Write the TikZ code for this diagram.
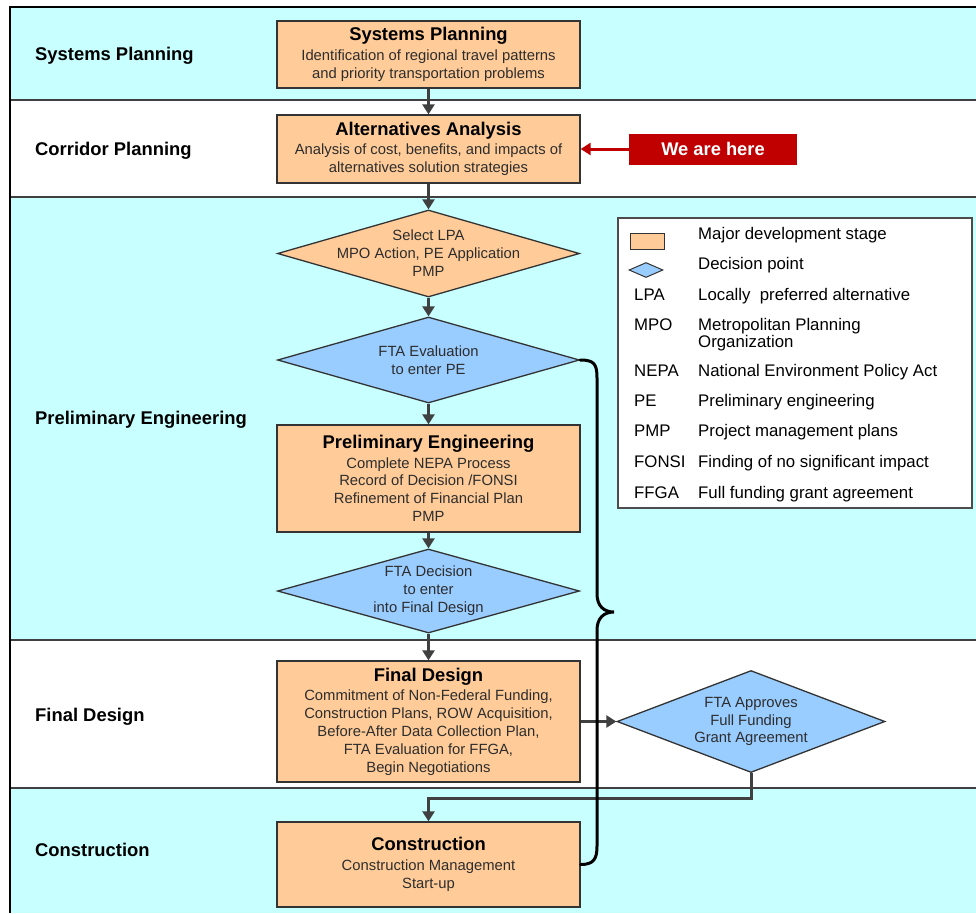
\documentclass[tikz,border=0pt]{standalone}
\usepackage{fontspec}
\setmainfont{Liberation Sans}
\usetikzlibrary{shapes.geometric,arrows.meta}
\definecolor{bandcyan}{RGB}{200,255,255}
\definecolor{stageor}{RGB}{255,204,153}
\definecolor{decblue}{RGB}{153,204,255}
\definecolor{herered}{RGB}{192,0,0}
\definecolor{linegray}{RGB}{64,64,64}
\definecolor{bodygray}{RGB}{45,45,45}
\newcommand\fBody{\fontsize{14.8}{17.9}\selectfont}
\newcommand\fTitle{\fontsize{18.4}{22}\selectfont\bfseries}
\newcommand\fLane{\fontsize{18.4}{22}\selectfont\bfseries}
\newcommand\fLeg{\fontsize{16.8}{15}\selectfont}
\newcommand\fHere{\fontsize{18.3}{22}\selectfont\bfseries}
\tikzset{
  stagebox/.style={draw=black!80, line width=1.3pt, fill=stageor, minimum width=303pt,
    inner sep=0pt, align=center, font=\fBody, text=bodygray},
  decision/.style={diamond, draw=black!80, line width=1.3pt, fill=decblue, inner sep=0pt},
  decisionor/.style={decision, fill=stageor},
  dtext/.style={align=center, font=\fBody, text=bodygray, inner sep=0pt},
  lanelabel/.style={anchor=base west, font=\fLane, inner sep=0pt},
  laneline/.style={draw=linegray, line width=2pt},
  flow/.style={draw=linegray, line width=3pt, -{Triangle[length=10pt,width=12pt]}},
  redflow/.style={draw=herered, line width=3pt, -{Triangle[length=10pt,width=12pt]}},
  herebox/.style={fill=herered, text=white, font=\fHere, minimum width=168pt, minimum height=31pt, inner sep=0pt},
  legendbox/.style={draw=black!70, line width=1.2pt, fill=white, inner sep=0pt},
  legtext/.style={anchor=base west, font=\fLeg, inner sep=0pt},
  brace/.style={draw=black, line width=3pt, line cap=round}
}
\begin{document}
\begin{tikzpicture}[x=1pt,y=-1pt]
\useasboundingbox (0,0) rectangle (976,913);
\fill[white] (0,0) rectangle (976,913);
% bands
\fill[bandcyan] (10,7) rectangle (976,100);
\fill[white] (10,100) rectangle (976,197);
\fill[bandcyan] (10,197) rectangle (976,640);
\fill[white] (10,640) rectangle (976,788);
\fill[bandcyan] (10,788) rectangle (976,913);
\draw[laneline] (10,100) -- (976,100);
\draw[laneline] (10,197) -- (976,197);
\draw[laneline] (10,640) -- (976,640);
\draw[laneline] (10,788) -- (976,788);
\draw[black, line width=2pt] (10,913) -- (10,7) -- (976,7);

% lane labels
\node[lanelabel] (l1) at (35,60.6) {Systems Planning};
\node[lanelabel] (l2) at (35,155.6) {Corridor Planning};
\node[lanelabel] (l3) at (35,424.6) {Preliminary Engineering};
\node[lanelabel] (l4) at (35,721.6) {Final Design};
\node[lanelabel] (l5) at (35,856.6) {Construction};

% stages
\node[stagebox, minimum height=67pt] (sp) at (428.5,54.5)
  {{\fTitle\color{black} Systems Planning}\\[1.5pt]Identification of regional travel patterns\\and priority transportation problems};
\node[stagebox, minimum height=68pt] (aa) at (428.5,149)
  {{\fTitle\color{black} Alternatives Analysis}\\[1.5pt]Analysis of cost, benefits, and impacts of\\alternatives solution strategies};
\node[decisionor, minimum width=302pt, minimum height=87pt] (d1) at (428.5,253.5) {};
\node[dtext] (d1t) at (d1.center) {Select LPA\\MPO Action, PE Application\\PMP};
\node[decision, minimum width=302pt, minimum height=86pt] (d2) at (428.5,360) {};
\node[dtext] (d2t) at (d2.center) {FTA Evaluation\\to enter PE};
\node[stagebox, minimum height=107pt] (pe) at (428.5,478.5)
  {{\fTitle\color{black} Preliminary Engineering}\\[1.5pt]Complete NEPA Process\\Record of Decision /FONSI\\Refinement of Financial Plan\\PMP};
\node[decision, minimum width=302pt, minimum height=84pt] (d3) at (428.5,591) {};
\node[dtext] (d3t) at (d3.center) {FTA Decision\\to enter\\into Final Design};
\node[stagebox, minimum height=121pt] (fd) at (428.5,721.5)
  {{\fTitle\color{black} Final Design}\\[1.5pt]Commitment of Non-Federal Funding,\\Construction Plans, ROW Acquisition,\\Before-After Data Collection Plan,\\FTA Evaluation for FFGA,\\Begin Negotiations};
\node[decision, minimum width=268pt, minimum height=102pt] (d4) at (751,721.5) {};
\node[dtext] (d4t) at (d4.center) {FTA Approves\\Full Funding\\Grant Agreement};
\node[stagebox, minimum height=85pt] (co) at (428.5,864.5)
  {{\fTitle\color{black} Construction}\\[1.5pt]Construction Management\\Start-up};

% flow
\draw[flow] (sp) -- (aa);
\draw[flow] (aa) -- (d1);
\draw[flow] (d1) -- (d2);
\draw[flow] (d2) -- (pe);
\draw[flow] (pe) -- (d3);
\draw[flow] (d3) -- (fd);
\draw[flow] (fd) -- (d4);
\draw[flow] (d4.south) -- ++(0,25) -| (co.north);

% we are here
\node[herebox] (here) at (713,149) {We are here};
\draw[redflow] (here) -- (aa);

% brace
\draw[brace] (d2.east) .. controls +(14,0) and +(0,-14) .. (597,378)
  -- (597,594) .. controls +(0,12) and +(-10,0) .. (614,612)
  .. controls +(-10,0) and +(0,-12) .. (597,630)
  -- (597,846) .. controls +(0,13) and +(13,0) .. (co.east);

% legend
\node[legendbox, minimum width=354pt, minimum height=290pt] (leg) at (795,363) {};
\node[stagebox, minimum width=34pt, minimum height=16pt, line width=1pt] (lgstage) at (647,241) {};
\node[decision, minimum width=34pt, minimum height=15pt, line width=1pt] (lgdec) at (646,270) {};
\node[legtext] (lt1) at (698,239) {Major development stage};
\node[legtext] (lt2) at (698,269) {Decision point};
\node[legtext] (la3) at (634,300) {LPA};
\node[legtext] (lt3) at (698,300) {Locally\ \ preferred alternative};
\node[legtext] (la4) at (634,330) {MPO};
\node[font=\fLeg, inner sep=0pt, anchor=north west, align=left] (lt4) at (698,318) {Metropolitan Planning\\Organization};
\node[legtext] (la5) at (634,376) {NEPA};
\node[legtext] (lt5) at (698,376) {National Environment Policy Act};
\node[legtext] (la6) at (634,406) {PE};
\node[legtext] (lt6) at (698,406) {Preliminary engineering};
\node[legtext] (la7) at (634,436) {PMP};
\node[legtext] (lt7) at (698,436) {Project management plans};
\node[legtext] (la8) at (634,467) {FONSI};
\node[legtext] (lt8) at (698,467) {Finding of no significant impact};
\node[legtext] (la9) at (634,498) {FFGA};
\node[legtext] (lt9) at (698,498) {Full funding grant agreement};
\end{tikzpicture}
\end{document}
